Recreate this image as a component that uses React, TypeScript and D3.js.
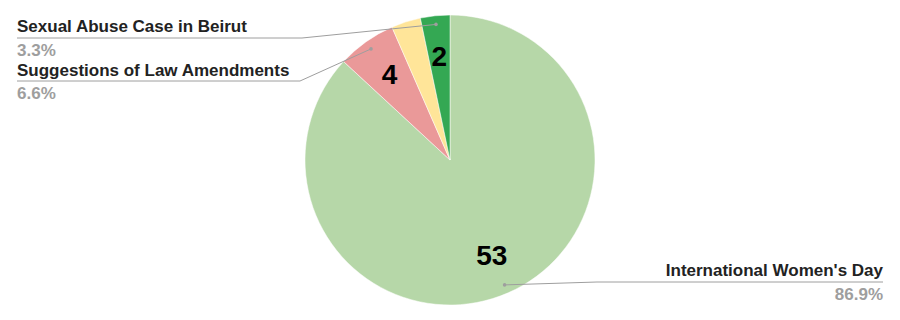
import React from "react";
import * as d3 from "d3";

const categories = [
  "International Women's Day",
  "Suggestions of Law Amendments",
  "Other",
  "Sexual Abuse Case in Beirut",
];
const values = [53, 4, 2, 2];
const colors = ["#b6d7a8", "#ea9999", "#ffe599", "#34a853"];
const showLabel = [true, true, false, true];
const showValue = [true, true, false, true];

const W = 900;
const H = 320;
const cx = 450;
const cy = 160;
const R = 145;

// label layout: side, text anchor x, baseline y of name, line y, elbow x
const labelLayout: Record<number, { side: "left" | "right"; x: number; y: number; lineY: number; elbowX: number }> = {
  0: { side: "right", x: 883, y: 276, lineY: 282, elbowX: 597 },
  1: { side: "left", x: 17, y: 76, lineY: 81, elbowX: 300 },
  3: { side: "left", x: 17, y: 32, lineY: 38, elbowX: 302 },
};

export default function App() {
  const total = d3.sum(values);
  const pie = d3
    .pie<number>()
    .sort(null)
    .value((d) => d)
    .startAngle(0)
    .endAngle(2 * Math.PI);
  const arcs = pie(values);
  const arcGen = d3.arc<d3.PieArcDatum<number>>().innerRadius(0).outerRadius(R);
  const valueArc = d3.arc<d3.PieArcDatum<number>>().innerRadius(R * 0.72).outerRadius(R * 0.72);
  const dotArc = d3.arc<d3.PieArcDatum<number>>().innerRadius(R * 0.94).outerRadius(R * 0.94);
  const fmt = d3.format(".1f");
  const font = "'Liberation Sans', Arial, sans-serif";

  return (
    <div style={{ position: "fixed", left: 0, top: 0 }}>
      <svg width={W} height={H} style={{ display: "block", background: "#fff" }}>
        <g transform={`translate(${cx},${cy})`}>
          {arcs.map((a, i) => (
            <path key={i} d={arcGen(a) || ""} fill={colors[i]} stroke="#fff" strokeWidth={0.5} />
          ))}
          {arcs.map((a, i) => {
            if (!showValue[i]) return null;
            const [x, y] = valueArc.centroid(a);
            return (
              <text
                key={"v" + i}
                x={x}
                y={y}
                textAnchor="middle"
                dominantBaseline="central"
                fontFamily={font}
                fontWeight="bold"
                fontSize={28}
                fill="#000"
              >
                {values[i]}
              </text>
            );
          })}
        </g>
        {arcs.map((a, i) => {
          if (!showLabel[i]) return null;
          const L = labelLayout[i];
          const [dx, dy] = dotArc.centroid(a);
          const px = cx + dx;
          const py = cy + dy;
          const anchor = L.side === "left" ? "start" : "end";
          return (
            <g key={"l" + i}>
              <polyline
                points={`${px},${py} ${L.elbowX},${L.lineY} ${L.x},${L.lineY}`}
                fill="none"
                stroke="#9e9e9e"
                strokeWidth={1}
              />
              <circle cx={px} cy={py} r={1.8} fill="#9e9e9e" />
              <text x={L.x} y={L.y} textAnchor={anchor} fontFamily={font} fontWeight="bold" fontSize={17} fill="#222">
                {categories[i]}
              </text>
              <text
                x={L.x}
                y={L.lineY + 18}
                textAnchor={anchor}
                fontFamily={font}
                fontWeight="bold"
                fontSize={17}
                fill="#9e9e9e"
              >
                {fmt((values[i] / total) * 100)}%
              </text>
            </g>
          );
        })}
      </svg>
    </div>
  );
}
